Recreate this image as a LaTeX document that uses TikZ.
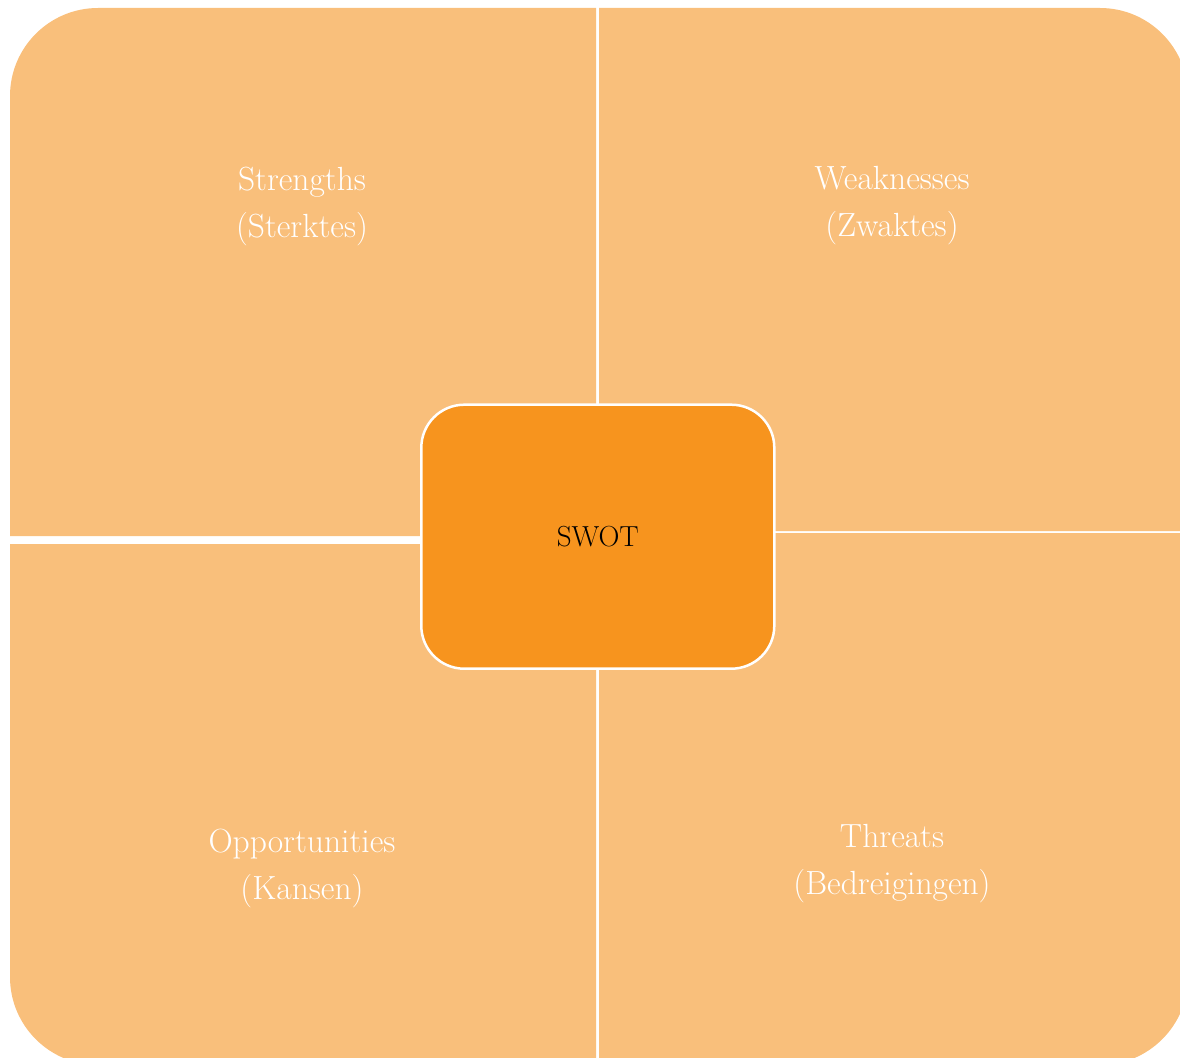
\documentclass[tikz,border=0pt]{standalone}
\definecolor{quadfill}{HTML}{F9BF7B}
\definecolor{centerfill}{HTML}{F7941E}
\begin{document}
\begin{tikzpicture}[x=1pt,y=1pt,
  quad/.style={fill=quadfill},
  lbl/.style={text=white, align=center, font=\fontsize{33.5}{47}\selectfont},
  centerbox/.style={draw=white, line width=2.5pt, fill=centerfill, rounded corners=43pt,
    minimum width=353pt, minimum height=264pt, font=\fontsize{29}{35}\selectfont, text=black}]
\useasboundingbox (0,0) rectangle (1180,-1057);
% quadrants
\fill[quad] (10,-536) -- (10,-96) arc[start angle=180,end angle=90,radius=88pt] -- (596,-8) -- (596,-536) -- cycle;
\fill[quad] (599,-531) -- (599,-8) -- (1100,-8) arc[start angle=90,end angle=0,radius=88pt] -- (1188,-531) -- cycle;
\fill[quad] (10,-544) -- (596,-544) -- (596,-1065) -- (98,-1065) arc[start angle=270,end angle=180,radius=88pt] -- cycle;
\fill[quad] (599,-533) -- (1188,-533) -- (1188,-977) arc[start angle=0,end angle=-90,radius=88pt] -- (599,-1065) -- cycle;
% center
\node[centerbox] (swot) at (597.8,-536.7) {SWOT};
% labels
\node[lbl] (s) at (302,-206) {Strengths\\(Sterktes)};
\node[lbl] (w) at (892,-206) {Weaknesses\\(Zwaktes)};
\node[lbl] (o) at (302,-868) {Opportunities\\(Kansen)};
\node[lbl] (t) at (892,-864) {Threats\\(Bedreigingen)};
\end{tikzpicture}
\end{document}
